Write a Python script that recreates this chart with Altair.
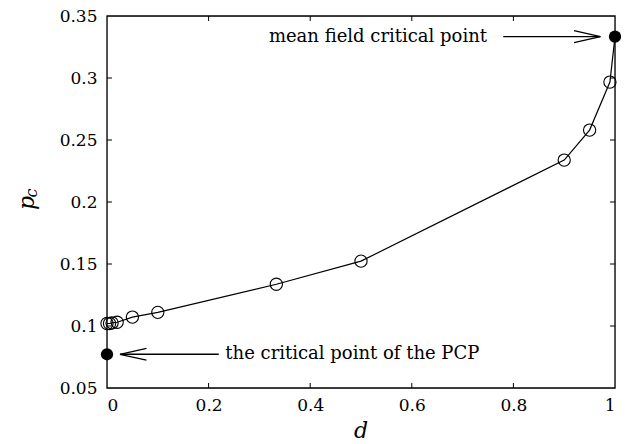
import altair as alt
import pandas as pd

# Critical point p_c versus diffusion probability d
d_vals = [0.0, 0.005, 0.01, 0.02, 0.05, 0.1, 1 / 3, 0.5, 0.9, 0.95, 0.99, 1.0]
pc_vals = [0.102, 0.102, 0.1025, 0.103, 0.1072, 0.111, 0.1337, 0.1523, 0.2338, 0.258, 0.2967, 1 / 3]

# Known limits drawn as filled points
ref_d = [0.0, 1.0]
ref_pc = [0.0772, 1 / 3]

# Annotation arrows: label, tail (d, pc), head (d, pc), text anchor
arrow_labels = ["the critical point of the PCP", "mean field critical point"]
arrow_tail_d = [0.22, 0.78]
arrow_head_d = [0.026, 0.971]
arrow_pc = [0.0772, 1 / 3]
text_d = [0.233, 0.748]
text_align = ["left", "right"]

x_ticks = [0, 0.2, 0.4, 0.6, 0.8, 1]
y_ticks = [0.05, 0.1, 0.15, 0.2, 0.25, 0.3, 0.35]

FONT = "DejaVu Serif"
W, H = 508, 372

xs = alt.Scale(domain=[0, 1], nice=False, zero=False)
ys = alt.Scale(domain=[0.05, 0.35], nice=False, zero=False)

curve = pd.DataFrame({"d": d_vals, "pc": pc_vals})
refs = pd.DataFrame({"d": ref_d, "pc": ref_pc})
arrows = pd.DataFrame({
    "label": arrow_labels, "tail": arrow_tail_d, "head": arrow_head_d,
    "pc": arrow_pc, "td": text_d, "align": text_align,
})

x_axis = alt.Axis(values=x_ticks, grid=False, ticks=False, domain=False,
                  labelFont=FONT, labelFontSize=17, labelColor="black",
                  labelPadding=9, title=None,
                  labelExpr="datum.value == 0 ? '0' : datum.value == 1 ? '1' : format(datum.value, '.1f')")
y_axis = alt.Axis(values=y_ticks, grid=False, ticks=False, domain=False,
                  labelFont=FONT, labelFontSize=17, labelColor="black",
                  labelPadding=10, title=None,
                  labelExpr="format(datum.value, '.3~f')")

line = alt.Chart(curve).mark_line(color="black", strokeWidth=1.2).encode(
    x=alt.X("d:Q", scale=xs, axis=x_axis),
    y=alt.Y("pc:Q", scale=ys, axis=y_axis),
)
open_pts = alt.Chart(curve[curve["d"] < 1]).mark_point(
    shape="circle", filled=False, color="black", size=150, strokeWidth=1.1, opacity=1
).encode(x=alt.X("d:Q", scale=xs), y=alt.Y("pc:Q", scale=ys))
filled_pts = alt.Chart(refs).mark_point(
    shape="circle", filled=True, color="black", size=150, opacity=1
).encode(x=alt.X("d:Q", scale=xs), y=alt.Y("pc:Q", scale=ys))

shaft = alt.Chart(arrows).mark_rule(color="black", strokeWidth=1.3).encode(
    x=alt.X("tail:Q", scale=xs), x2="head:Q", y=alt.Y("pc:Q", scale=ys)
)
# open arrow heads: left-pointing for the lower arrow, right-pointing for the upper
head_left = alt.Chart(arrows[arrows["align"] == "left"]).mark_point(
    shape="M 1 -0.45 L -1 0 L 1 0.45", filled=False, color="black",
    size=700, strokeWidth=1.3, opacity=1
).encode(x=alt.X("head:Q", scale=xs), y=alt.Y("pc:Q", scale=ys), xOffset=alt.value(13))
head_right = alt.Chart(arrows[arrows["align"] == "right"]).mark_point(
    shape="M -1 -0.45 L 1 0 L -1 0.45", filled=False, color="black",
    size=700, strokeWidth=1.3, opacity=1
).encode(x=alt.X("head:Q", scale=xs), y=alt.Y("pc:Q", scale=ys), xOffset=alt.value(-13))

lab_left = alt.Chart(arrows[arrows["align"] == "left"]).mark_text(
    align="left", baseline="middle", font=FONT, fontSize=18, color="black"
).encode(x=alt.X("td:Q", scale=xs), y=alt.Y("pc:Q", scale=ys), text="label:N")
lab_right = alt.Chart(arrows[arrows["align"] == "right"]).mark_text(
    align="right", baseline="middle", font=FONT, fontSize=18, color="black"
).encode(x=alt.X("td:Q", scale=xs), y=alt.Y("pc:Q", scale=ys), text="label:N")

# frame and inward ticks
frame = alt.Chart(pd.DataFrame({"a": [0]})).mark_rect(
    fill=None, stroke="black", strokeWidth=1.3
).encode(x=alt.value(0), x2=alt.value(W), y=alt.value(0), y2=alt.value(H))

tx = pd.DataFrame({"v": x_ticks[1:-1]})
ty = pd.DataFrame({"v": y_ticks[1:-1]})
tick_len = 5
xt_bot = alt.Chart(tx).mark_rule(color="black", strokeWidth=1).encode(
    x=alt.X("v:Q", scale=xs), y=alt.value(H), y2=alt.value(H - tick_len))
xt_top = alt.Chart(tx).mark_rule(color="black", strokeWidth=1).encode(
    x=alt.X("v:Q", scale=xs), y=alt.value(0), y2=alt.value(tick_len))
yt_left = alt.Chart(ty).mark_rule(color="black", strokeWidth=1).encode(
    y=alt.Y("v:Q", scale=ys), x=alt.value(0), x2=alt.value(tick_len))
yt_right = alt.Chart(ty).mark_rule(color="black", strokeWidth=1).encode(
    y=alt.Y("v:Q", scale=ys), x=alt.value(W), x2=alt.value(W - tick_len))

# axis titles: d and p_c in italics
one = pd.DataFrame({"a": [0]})
xtitle = alt.Chart(one).mark_text(
    font=FONT, fontSize=22, fontStyle="italic", color="black", align="center", baseline="middle"
).encode(x=alt.value(W / 2), y=alt.value(H + 43), text=alt.value("d"))
ytitle_p = alt.Chart(one).mark_text(
    font=FONT, fontSize=22, fontStyle="italic", color="black", align="center", baseline="middle"
).encode(x=alt.value(-80), y=alt.value(187), text=alt.value("p"), angle=alt.value(270))
ytitle_c = alt.Chart(one).mark_text(
    font=FONT, fontSize=16, fontStyle="italic", color="black", align="center", baseline="middle"
).encode(x=alt.value(-75), y=alt.value(177), text=alt.value("c"), angle=alt.value(270))

chart = alt.layer(
    line, open_pts, filled_pts, shaft, head_left, head_right, lab_left, lab_right,
    frame, xt_bot, xt_top, yt_left, yt_right, xtitle, ytitle_p, ytitle_c,
).properties(
    width=W, height=H,
    autosize=alt.AutoSizeParams(type="none"),
    padding={"left": 107, "top": 16, "right": 16, "bottom": 56},
).configure_view(stroke=None).configure(background="white")

chart.save("out.html", embed_options={"renderer": "svg", "actions": False})
